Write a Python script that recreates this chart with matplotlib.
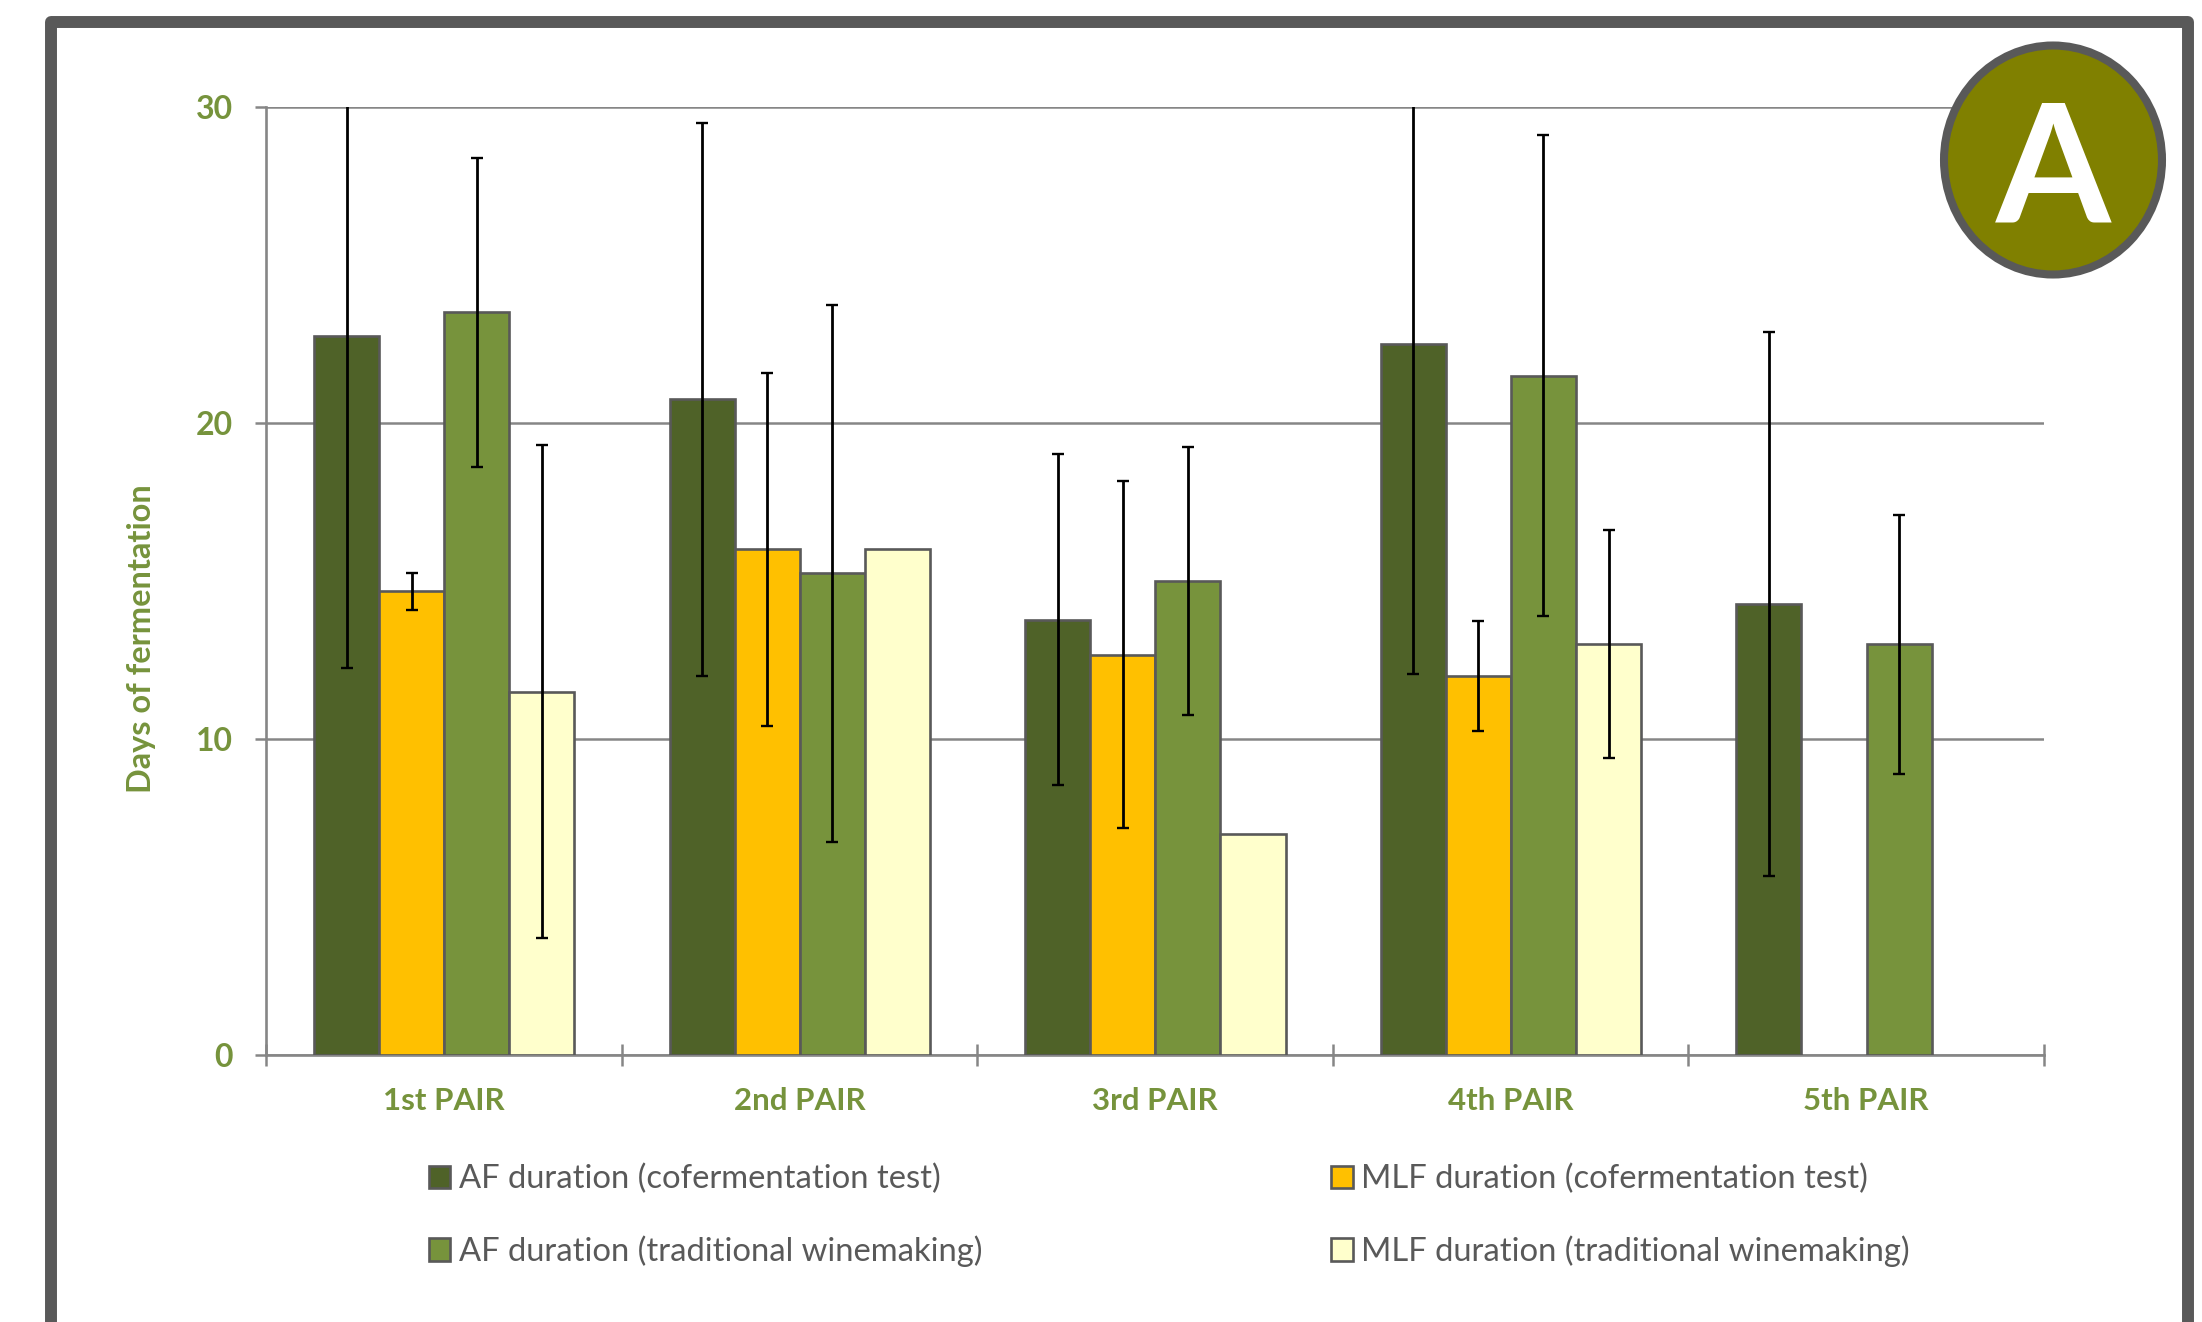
import numpy as np
import matplotlib
matplotlib.use("Agg")
import matplotlib.pyplot as plt
from matplotlib.patches import Rectangle, Ellipse
from matplotlib.transforms import IdentityTransform

categories = ["1st PAIR", "2nd PAIR", "3rd PAIR", "4th PAIR", "5th PAIR"]
series_names = ["AF duration (cofermentation test)", "MLF duration (cofermentation test)",
                "AF duration (traditional winemaking)", "MLF duration (traditional winemaking)"]
af_cof = [22.75, 20.75, 13.78, 22.5, 14.27]
mlf_cof = [14.67, 16.0, 12.67, 12.0, np.nan]
af_trad = [23.5, 15.25, 15.0, 21.5, 13.0]
mlf_trad = [11.5, 16.0, 7.0, 13.0, np.nan]
af_cof_err = [10.5, 8.75, 5.25, 10.45, 8.6]
mlf_cof_err = [0.58, 5.58, 5.5, 1.75, np.nan]
af_trad_err = [4.9, 8.5, 4.25, 7.6, 4.1]
mlf_trad_err = [7.8, np.nan, np.nan, 3.6, np.nan]
yticks = [0, 10, 20, 30]

values = [af_cof, mlf_cof, af_trad, mlf_trad]
errors = [af_cof_err, mlf_cof_err, af_trad_err, mlf_trad_err]
colors = ["#4F6228", "#FFC000", "#77933C", "#FFFFCC"]
GREEN = "#76933C"
GRAY = "#595959"
LINE = "#868686"

W, H = 2202, 1322
plt.rcParams["font.family"] = ["Lato", "DejaVu Sans"]
fig = plt.figure(figsize=(W / 100, H / 100), dpi=100, facecolor="white")
ax = fig.add_axes([266 / W, 1 - 1055 / H, (2044 - 266) / W, (1055 - 107) / H])

x = np.arange(len(categories))
bw = 0.183
handles = []
for i, (v, e, c) in enumerate(zip(values, errors, colors)):
    pos = x + (i - 1.5) * bw + 0.001
    b = ax.bar(pos, v, bw, color=c, edgecolor=GRAY, linewidth=1.9, zorder=3, label=series_names[i])
    handles.append(b)
    ax.errorbar(pos, v, yerr=e, fmt="none", ecolor="black", elinewidth=2.0, capsize=4,
                capthick=1.7, zorder=4)

ax.set_xlim(-0.5, len(categories) - 0.5)
ax.set_ylim(0, 30)
ax.set_yticks(yticks)
ax.set_xticks(x)
ax.set_xticklabels(categories)
ax.set_xticks(np.arange(len(categories) + 1) - 0.5, minor=True)
ax.grid(axis="y", color=LINE, linewidth=1.8, zorder=0)
ax.set_axisbelow(True)
for s in ["top", "right"]:
    ax.spines[s].set_visible(False)
for s in ["left", "bottom"]:
    ax.spines[s].set_color(LINE)
    ax.spines[s].set_linewidth(1.9)
ax.tick_params(axis="y", length=8, width=1.8, color=LINE, labelsize=23, labelcolor=GREEN, pad=16)
ax.tick_params(axis="x", which="major", length=0, labelsize=22.5, labelcolor=GREEN, pad=23)
ax.tick_params(axis="x", which="minor", direction="inout", length=16, width=1.8, color=LINE)
for t in ax.get_xticklabels() + ax.get_yticklabels():
    t.set_fontweight("bold")
ax.set_ylabel("Days of fermentation", fontsize=23.4, fontweight="bold", color=GREEN)
ax.yaxis.set_label_coords(156 / W, 1 - 639 / H, transform=fig.transFigure)

leg = fig.legend(handles=[handles[0], handles[2], handles[1], handles[3]],
                 labels=[series_names[0], series_names[2], series_names[1], series_names[3]],
                 ncol=2, frameon=False, fontsize=23.6, labelcolor=GRAY,
                 loc="upper left", bbox_to_anchor=(429 / W, 1 - 1164 / H),
                 bbox_transform=fig.transFigure, borderaxespad=0, borderpad=0,
                 handlelength=0.65, handleheight=0.7, handletextpad=0.26,
                 labelspacing=1.26, columnspacing=10.65)

# Outer frame, running off the bottom of the picture
fig.add_artist(Rectangle((51, -40), 2136.5, H - 22 + 40, transform=IdentityTransform(),
                         facecolor="none", edgecolor=GRAY, linewidth=8.6, joinstyle="round"))
# Panel badge
fig.add_artist(Ellipse((2053, H - 160), 218, 229, transform=IdentityTransform(),
                       facecolor="#808000", edgecolor=GRAY, linewidth=5.8, zorder=10))
fig.text(2053 / W, 1 - 175 / H, "A", color="white", fontsize=119, fontweight="bold",
         ha="center", va="center", zorder=11)

fig.savefig("out.png", dpi=100)
